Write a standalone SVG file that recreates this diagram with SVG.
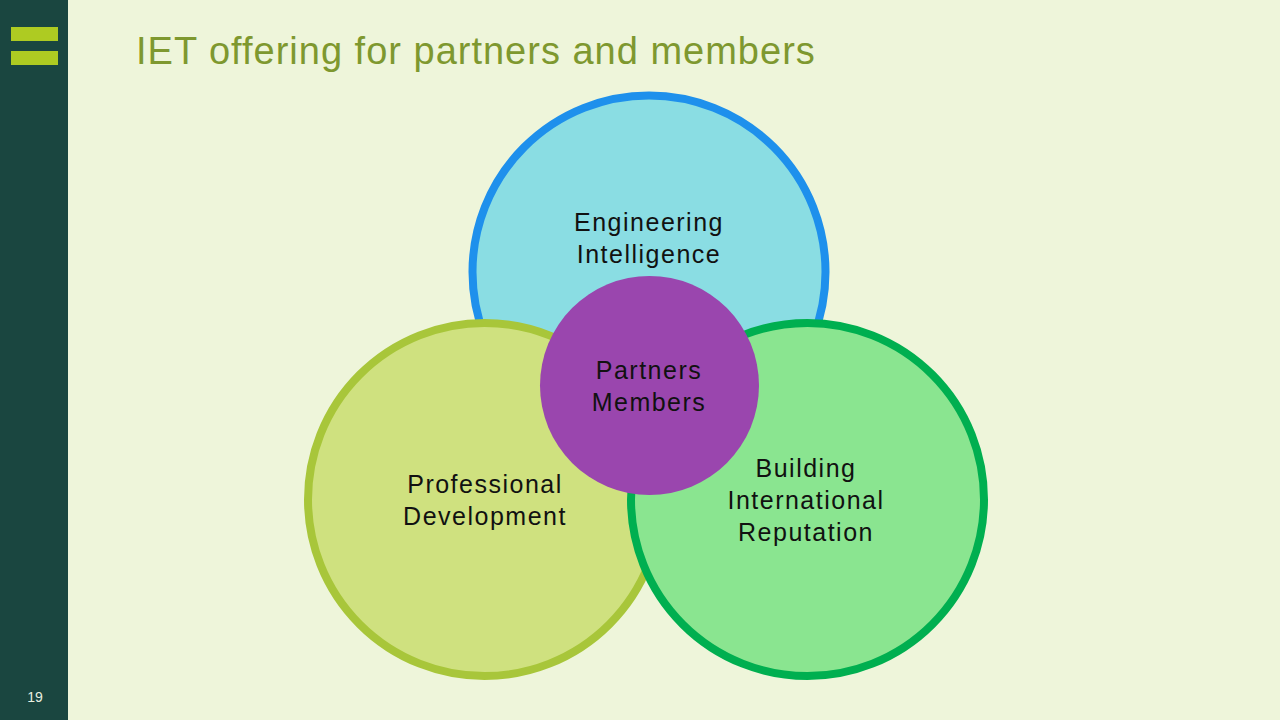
<svg xmlns="http://www.w3.org/2000/svg" width="1280" height="720" viewBox="0 0 1280 720">
  <style>
    .lbl { font-family: "Liberation Sans", Arial, sans-serif; font-size: 25px; fill: #111111; text-anchor: middle; letter-spacing: 1.5px; }
    .title { font-family: "Liberation Sans", Arial, sans-serif; font-size: 38px; fill: #7E982F; letter-spacing: 1px; }
    .pg { font-family: "Liberation Sans", Arial, sans-serif; font-size: 14px; fill: #E8F0E0; text-anchor: middle; }
  </style>
  <rect x="0" y="0" width="1280" height="720" fill="#EEF5DA"/>
  <g id="sidebar">
    <rect x="0" y="0" width="68" height="720" fill="#1A4640"/>
    <rect x="11" y="27" width="47" height="14" fill="#AECB22"/>
    <rect x="11" y="51" width="47" height="14" fill="#AECB22"/>
    <text class="pg" x="35" y="702">19</text>
  </g>
  <text id="title" class="title" x="136" y="63.5">IET offering for partners and members</text>
  <g id="connectors"></g>
  <g id="engineering-intelligence">
    <circle cx="649" cy="272" r="176.5" fill="#8ADDE3" stroke="#1E90EC" stroke-width="8"/>
    <text class="lbl" x="649" y="231">Engineering</text>
    <text class="lbl" x="649" y="263">Intelligence</text>
  </g>
  <g id="professional-development">
    <circle cx="484.5" cy="499.5" r="176.5" fill="#CFE17F" stroke="#A8C63A" stroke-width="8"/>
    <text class="lbl" x="485" y="493">Professional</text>
    <text class="lbl" x="485" y="525">Development</text>
  </g>
  <g id="building-international-reputation">
    <circle cx="807.5" cy="499.5" r="176.5" fill="#8AE590" stroke="#00AF50" stroke-width="8"/>
    <text class="lbl" x="806" y="477">Building</text>
    <text class="lbl" x="806" y="509">International</text>
    <text class="lbl" x="806" y="541">Reputation</text>
  </g>
  <g id="partners-members">
    <circle cx="649.5" cy="385.5" r="109.5" fill="#9A46AE"/>
    <text class="lbl" x="649" y="379">Partners</text>
    <text class="lbl" x="649" y="411">Members</text>
  </g>
</svg>
